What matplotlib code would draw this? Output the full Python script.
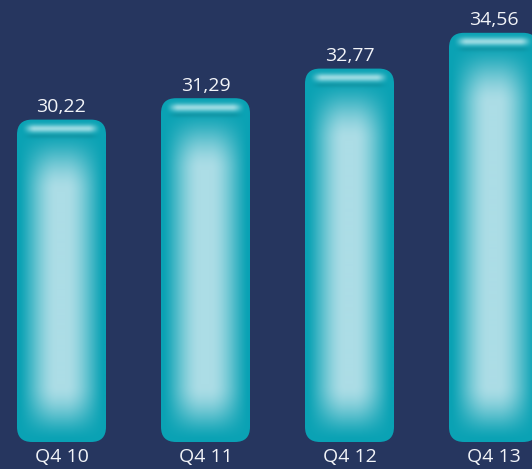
import numpy as np
import matplotlib
matplotlib.use("Agg")
import matplotlib.pyplot as plt
from matplotlib.patches import FancyBboxPatch

# data
categories = ["Q4 10", "Q4 11", "Q4 12", "Q4 13"]
values = [30.22, 31.29, 32.77, 34.56]
value_labels = ["30,22", "31,29", "32,77", "34,56"]

bg = "#26365f"
W, H = 532, 469
base = 14.1          # value at the bars' foot
px_y = 20.0          # pixels per unit on y
px_x = 144.0         # pixels per category
bar_w = 89 / px_x
foot_px = 442

fig = plt.figure(figsize=(W / 100, H / 100), dpi=100, facecolor=bg)
ax = fig.add_axes([0, 0, 1, 1])
ax.set_facecolor(bg)
ax.set_xlim(-61.5 / px_x, (W - 61.5) / px_x)
ax.set_ylim(base - (H - foot_px) / px_y, base + foot_px / px_y)
ax.axis("off")

edge = np.array([10, 162, 180]) / 255
inner = np.array([172, 221, 230]) / 255
hilite = np.array([198, 236, 240]) / 255


def smooth(t):
    t = np.clip(t, 0, 1)
    return t * t * (3 - 2 * t)


def bar_image(wpx, hpx):
    x = np.arange(wpx) + 0.5
    y = np.arange(hpx) + 0.5  # from top
    X, Y = np.meshgrid(x, y)
    dx = np.minimum(X, wpx - X)
    dtop = Y
    dbot = hpx - Y
    sx = smooth((dx - 2) / 38) ** 0.7
    sy = smooth((dbot - 2) / 55) ** 0.8 * smooth((dtop - 12) / 60) ** 0.8
    w = (sx * sy)[..., None]
    img = edge * (1 - w) + inner * w
    # top gloss strip
    side = smooth((dx - 4) / 14)
    band = np.exp(-((Y - 9.5) / 4.0) ** 2) * side
    img = img * (1 - 0.75 * band[..., None]) + hilite * 0.75 * band[..., None]
    shade = np.exp(-((Y - 17) / 2.5) ** 2) * side
    img = img * (1 - 0.08 * shade[..., None])
    return np.clip(img, 0, 1)


r_x = 15 / px_x
for i, v in enumerate(values):
    x0 = i - bar_w / 2
    h = v - base
    patch = FancyBboxPatch((x0, base), bar_w, h,
                           boxstyle=f"round,pad=0,rounding_size={r_x}",
                           mutation_aspect=px_x / px_y,
                           facecolor="none", edgecolor="none")
    ax.add_patch(patch)
    img = bar_image(89, int(round(h * px_y)))
    im = ax.imshow(img, extent=(x0, x0 + bar_w, base, v), aspect="auto",
                   interpolation="bilinear", zorder=2)
    im.set_clip_path(patch)
    ax.text(i, v + 0.38, value_labels[i], ha="center", va="baseline",
            color="#f2f4f8", fontsize=14, family="Open Sans")
    ax.text(i, base - 0.3, categories[i], ha="center", va="top",
            color="#f2f4f8", fontsize=14, family="Open Sans")

fig.savefig("out.png", dpi=100, facecolor=bg)
